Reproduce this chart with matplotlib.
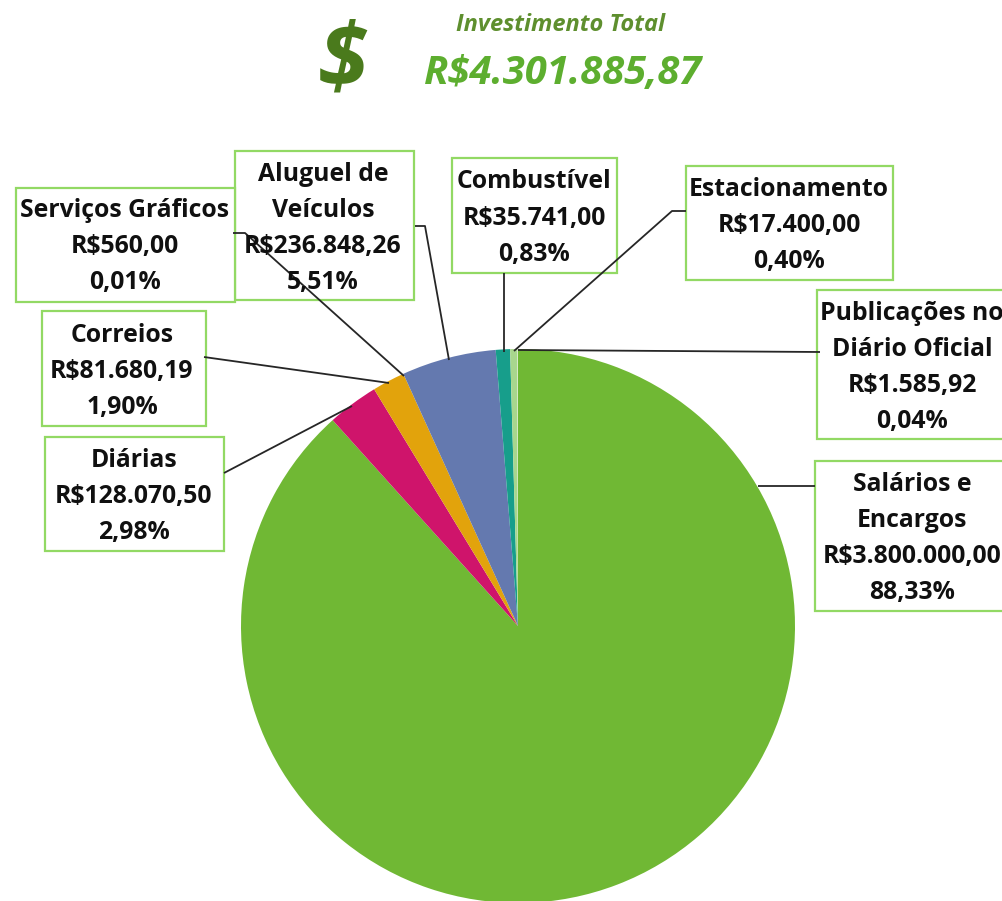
import matplotlib
matplotlib.use("Agg")
import matplotlib.pyplot as plt
from matplotlib.patches import Rectangle

W, H = 1002, 901

categories = ["Salários e Encargos", "Diárias", "Correios", "Aluguel de Veículos",
              "Combustível", "Estacionamento", "Publicações no Diário Oficial", "Serviços Gráficos"]
values = [3800000.00, 128070.50, 81680.19, 236848.26, 35741.00, 17400.00, 1585.92, 560.00]
colors = ["#70B834", "#CF146B", "#E2A30C", "#6479AF", "#179E8B", "#A8D68D", "#C8E0B4", "#D9E8C8"]

label_lines = [
    ["Salários e", "Encargos", "R$3.800.000,00", "88,33%"],
    ["Diárias", "R$128.070,50", "2,98%"],
    ["Correios", "R$81.680,19", "1,90%"],
    ["Aluguel de", "Veículos", "R$236.848,26", "5,51%"],
    ["Combustível", "R$35.741,00", "0,83%"],
    ["Estacionamento", "R$17.400,00", "0,40%"],
    ["Publicações no", "Diário Oficial", "R$1.585,92", "0,04%"],
    ["Serviços Gráficos", "R$560,00", "0,01%"],
]
title_text = "Investimento Total"
total_text = "R$4.301.885,87"

# layout, in image pixels
boxes = [(815, 461, 1010, 611), (45, 437, 224, 551), (42, 311, 206, 426), (235, 151, 414, 300),
         (452, 158, 617, 273), (686, 166, 893, 280), (817, 290, 1010, 439), (16, 188, 235, 302)]
text_x = [912, 134, 122, 323, 534, 789, 912, 125]
first_base = [491, 467, 342, 181, 188, 196, 320, 217]
pitch = [36, 36, 36, 36, 36.5, 36, 36, 36]
leaders = [
    [(815, 486), (758, 486)],
    [(224, 473), (352, 406)],
    [(204, 357), (389, 383)],
    [(415, 226), (425, 226), (449, 360)],
    [(504, 273), (504, 352)],
    [(686, 211), (672, 211), (514, 351)],
    [(820, 352), (518, 350)],
    [(233, 233), (245, 233), (404, 376)],
]
FONT = "Open Sans"
plt.rcParams["font.family"] = [FONT, "DejaVu Sans"]

fig = plt.figure(figsize=(W / 100, H / 100), dpi=100, facecolor="white")
ax = fig.add_axes([0, 0, 1, 1])


def fy(y):
    return H - y


ax.pie(values, colors=colors, startangle=90, counterclock=False,
       center=(518, fy(626)), radius=277, frame=True,
       wedgeprops={"linewidth": 0, "antialiased": True})
ax.set_xlim(0, W)
ax.set_ylim(0, H)
ax.set_aspect("equal")
ax.axis("off")

box_order = [3, 7, 2, 1, 4, 5, 6, 0]
for i in box_order:
    x0, y0, x1, y1 = boxes[i]
    ax.add_patch(Rectangle((x0, fy(y1)), x1 - x0, y1 - y0, facecolor="white",
                           edgecolor="#92D964", linewidth=1.6, zorder=3))
for pts in leaders:
    ax.plot([p[0] for p in pts], [fy(p[1]) for p in pts], color="#262626", lw=1.3, zorder=5,
            solid_capstyle="butt")
for i, lines in enumerate(label_lines):
    for j, line in enumerate(lines):
        ax.text(text_x[i], fy(first_base[i] + j * pitch[i]), line, ha="center", va="baseline",
                fontsize=17.8, fontweight="bold", color="#101010", zorder=6, clip_on=True)

ax.text(343, fy(86), "$", ha="center", va="baseline", fontsize=65, fontweight="bold",
        style="italic", color="#4A7A1C")
ax.text(561, fy(31), title_text, ha="center", va="baseline", fontsize=17, fontweight="bold",
        style="italic", color="#5E8F2E")
ax.text(563, fy(84), total_text, ha="center", va="baseline", fontsize=28.8, fontweight="bold",
        style="italic", color="#5DAE2F")

fig.savefig("out.png", dpi=100, facecolor="white")
